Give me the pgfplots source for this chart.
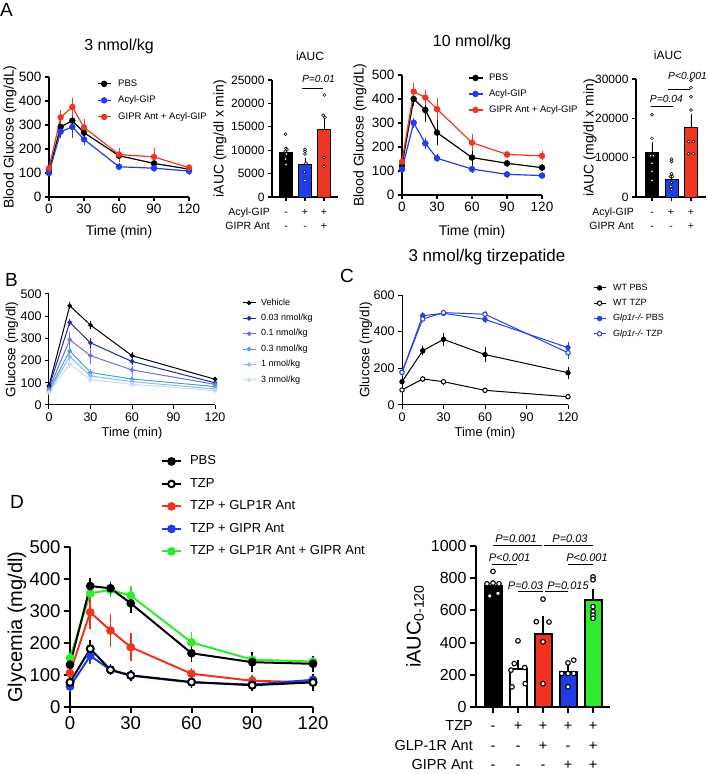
\documentclass[border=0pt]{standalone}
\usepackage{fontspec}
\setmainfont{Liberation Sans}
\usepackage{pgfplots}
\usepackage{pgfplotstable}
\pgfplotsset{compat=1.18}

\newcommand{\fs}[1]{\fontsize{#1}{#1}\selectfont}

\definecolor{aBlue}{RGB}{30,62,235}
\definecolor{aRed}{RGB}{238,55,35}
\definecolor{bC1}{RGB}{28,42,170}
\definecolor{bC2}{RGB}{112,112,222}
\definecolor{bC3}{RGB}{80,158,222}
\definecolor{bC4}{RGB}{140,188,238}
\definecolor{bC5}{RGB}{198,220,244}
\definecolor{cBlue}{RGB}{35,65,225}
\definecolor{dRed}{RGB}{240,50,30}
\definecolor{dBlue}{RGB}{30,60,225}
\definecolor{dGreen}{RGB}{45,235,45}

\pgfplotstableread{
t   pbs pbsE gip gipE ant antE
0   110 8    100 6    120 8
10  292 15   272 15   332 22
20  318 20   292 35   375 27
30  268 15   240 15   290 25
60  172 10   126 6    177 20
90  140 8    120 8    167 26
120 116 6    108 6    122 6
}\dataAthree

\pgfplotstableread{
t   pbs pbsE gip gipE ant antE
0   122 8    107 6    139 8
10  400 18   301 12   431 25
20  354 40   215 15   406 22
30  260 42   153 8    358 35
60  156 22   108 6    218 25
90  132 6    86  5    169 6
120 114 5    81  5    163 10
}\dataAten

\pgfplotstableread{
t   veh vehE da daE db dbE dc dcE dd ddE de deE
0   87  5    80 4   71 4   65 4   60 4   56 4
15  447 10   372 10 294 30 244 15 218 20 185 12
30  360 10   280 15 222 30 146 8  131 8  113 6
60  222 8    196 8  158 12 117 10 105 6  93 6
120 116 4    100 4  93 4   83 4   72 4   65 4
}\dataB

\pgfplotstableread{
t   wp  wpE wt wtE kp  kpE kt  ktE
0   127 10  82 5   178 8   178 8
15  296 15  142 5  487 8   469 8
30  358 25  127 5  500 6   504 6
60  275 28  80 4   467 10  495 6
120 176 22  45 4   313 20  285 25
}\dataC

\pgfplotstableread{
t   pbs pbsE tzp tzpE glp glpE gip gipE both bothE
0   132 8   77 6   106 6   64 6   153 6
10  378 15  182 15 296 40  160 15 355 10
20  371 10  116 6  239 40  116 6  366 10
30  324 20  99 6   187 32  98 6   348 18
60  168 15  78 8   104 6   77 6   202 20
90  140 20  68 6   82 6    70 6   148 10
120 135 15  77 15  77 6    85 6   142 8
}\dataD

\pgfplotsset{
  gp/.style={scale only axis, clip=false,
    axis x line*=bottom, axis y line*=left,
    axis line style={line width=#1, black},
    tick style={line width=#1, black},
    tick align=outside, scaled ticks=false,
    /pgf/number format/assume math mode=true,
    /pgf/number format/1000 sep={},
    legend cell align=left},
  fser/.style n args={5}{color=#1, line width=#2, mark=*, mark size=#3,
    mark options={solid, fill=#1, draw=#1},
    error bars/.cd, y dir=both, y explicit,
    error bar style={line width=#4, #1, solid},
    error mark options={mark size=#5, line width=#4, #1}},
  oser/.style n args={5}{color=#1, line width=#2, mark=*, mark size=#3,
    mark options={solid, fill=white, draw=#1},
    error bars/.cd, y dir=both, y explicit,
    error bar style={line width=#4, #1, solid},
    error mark options={mark size=#5, line width=#4, #1}},
  gbar/.style n args={4}{ybar, bar shift=0pt, bar width=#2, fill=#1, draw=black, line width=#3,
    error bars/.cd, y dir=plus, y explicit,
    error bar style={line width=#3, black},
    error mark options={mark size=#4, line width=#3, black}},
  dots/.style 2 args={only marks, mark=*, mark size=#1, mark options={fill=white, draw=black, line width=#2}},
  leglen/.style={legend image code/.code={\draw[mark repeat=2,mark phase=2] plot coordinates {(0pt,0pt) (#1/2,0pt) (#1,0pt)};}},
}

\begin{document}
\begin{tikzpicture}
\path[use as bounding box] (0pt,0pt) rectangle (708pt,774pt);

% ---------------- A: 3 nmol/kg ----------------
\begin{axis}[gp=1.2pt, at={(49pt,577pt)}, anchor=south west,
  width=140pt, height=120pt, xmin=0, xmax=120, ymin=0, ymax=500,
  xtick={0,30,60,90,120}, ytick={0,100,...,500}, major tick length=4pt,
  tick label style={font=\fs{13.5}},
  title={3 nmol/kg}, title style={font=\fs{16}, at={(axis description cs:0.5,1.208)}, anchor=center},
  xlabel={Time (min)}, xlabel style={font=\fs{14}, at={(axis description cs:0.5,-0.292)}, anchor=center},
  ylabel={Blood Glucose (mg/dL)}, ylabel style={font=\fs{14}, at={(axis description cs:-0.279,0.5)}, anchor=center},
  leglen=13pt,
  legend style={at={(axis description cs:0.343,0.98)}, anchor=north west, draw=none, fill=none,
     inner sep=0pt, outer sep=0pt, row sep=7.5pt, column sep=7pt, font=\fs{9.5},
     nodes={inner sep=0pt, text height=7pt, text depth=2pt}},
]
\addplot[fser={black}{1.2pt}{2.6pt}{0.9pt}{2.2pt}] table[x=t,y=pbs,y error=pbsE]{\dataAthree};
\addlegendentry{PBS}
\addplot[fser={aBlue}{1.2pt}{2.6pt}{0.9pt}{2.2pt}] table[x=t,y=gip,y error=gipE]{\dataAthree};
\addlegendentry{Acyl-GIP}
\addplot[fser={aRed}{1.2pt}{2.6pt}{0.9pt}{2.2pt}] table[x=t,y=ant,y error=antE]{\dataAthree};
\addlegendentry{GIPR Ant + Acyl-GIP}
\end{axis}

% ---------------- A: iAUC 3 nmol/kg ----------------
\begin{axis}[gp=1.2pt, at={(272pt,577pt)}, anchor=south west,
  width=66pt, height=117pt, xmin=0.263, xmax=3.737, ymin=0, ymax=25000,
  xtick={1,2,3}, xticklabels={,,}, ytick={0,5000,...,25000}, major tick length=4pt,
  tick label style={font=\fs{12}},
  title={iAUC}, title style={font=\fs{12}, at={(axis description cs:0.576,1.154)}, anchor=center},
  ylabel={iAUC (mg/dl x min)}, ylabel style={font=\fs{14}, at={(axis description cs:-0.788,0.5)}, anchor=center},
]
\addplot[gbar={black}{13pt}{0.9pt}{2.2pt}] coordinates {(1,9600) +- (0,600)};
\addplot[gbar={aBlue}{13pt}{0.9pt}{2.2pt}] coordinates {(2,7000) +- (0,900)};
\addplot[gbar={aRed}{13pt}{0.9pt}{2.2pt}] coordinates {(3,14400) +- (0,2700)};
\addplot[dots={1.5pt}{0.5pt}] coordinates {(0.97,13400) (1.0,10400) (1.05,10100) (0.95,9800) (1.02,9200) (0.98,8100) (1.0,6900)
  (2,10200) (2,9700) (2,9200) (2.05,7200) (1.97,5400) (2,3500)
  (3.02,21800) (2.95,17500) (3.05,17000) (3,8500) (3,6500)};
\draw[line width=0.9pt] (axis cs:1.84,23300) -- (axis cs:2.95,23300);
\node[font=\itshape\fs{10.3}, anchor=base] at (axis cs:2.71,23300) [yshift=5pt] {P=0.01};
\end{axis}

% ---------------- A: 10 nmol/kg ----------------
\begin{axis}[gp=1.2pt, at={(402pt,579pt)}, anchor=south west,
  width=140pt, height=120pt, xmin=0, xmax=120, ymin=0, ymax=500,
  xtick={0,30,60,90,120}, ytick={0,100,...,500}, major tick length=4pt,
  tick label style={font=\fs{13.5}},
  title={10 nmol/kg}, title style={font=\fs{16}, at={(axis description cs:0.5,1.225)}, anchor=center},
  xlabel={Time (min)}, xlabel style={font=\fs{14}, at={(axis description cs:0.5,-0.308)}, anchor=center},
  ylabel={Blood Glucose (mg/dL)}, ylabel style={font=\fs{14}, at={(axis description cs:-0.3,0.5)}, anchor=center},
  leglen=14pt,
  legend style={at={(axis description cs:0.471,1.013)}, anchor=north west, draw=none, fill=none,
     inner sep=0pt, outer sep=0pt, row sep=7pt, column sep=6pt, font=\fs{9.5},
     nodes={inner sep=0pt, text height=7pt, text depth=2pt}},
]
\addplot[fser={black}{1.2pt}{2.6pt}{0.9pt}{2.2pt}] table[x=t,y=pbs,y error=pbsE]{\dataAten};
\addlegendentry{PBS}
\addplot[fser={aBlue}{1.2pt}{2.6pt}{0.9pt}{2.2pt}] table[x=t,y=gip,y error=gipE]{\dataAten};
\addlegendentry{Acyl-GIP}
\addplot[fser={aRed}{1.2pt}{2.6pt}{0.9pt}{2.2pt}] table[x=t,y=ant,y error=antE]{\dataAten};
\addlegendentry{GIPR Ant + Acyl-GIP}
\end{axis}

% ---------------- A: iAUC 10 nmol/kg ----------------
\begin{axis}[gp=1.2pt, at={(636pt,577pt)}, anchor=south west,
  width=70pt, height=118pt, xmin=0.18, xmax=3.77, ymin=0, ymax=30000,
  xtick={1,2,3}, xticklabels={,,}, ytick={0,10000,20000,30000}, major tick length=4pt,
  tick label style={font=\fs{12}},
  title={iAUC}, title style={font=\fs{12}, at={(axis description cs:0.457,1.153)}, anchor=center},
  ylabel={iAUC (mg/dl x min)}, ylabel style={font=\fs{14}, at={(axis description cs:-0.657,0.5)}, anchor=center},
]
\addplot[gbar={black}{13pt}{0.9pt}{2.2pt}] coordinates {(1,11300) +- (0,2100)};
\addplot[gbar={aBlue}{13pt}{0.9pt}{2.2pt}] coordinates {(2,4400) +- (0,1500)};
\addplot[gbar={aRed}{13pt}{0.9pt}{2.2pt}] coordinates {(3,17700) +- (0,2800)};
\addplot[dots={1.5pt}{0.5pt}] coordinates {(1,20900) (1,14900) (0.93,10500) (1.07,10500) (1,8600) (1,6500) (1,4200)
  (2,9600) (2,9000) (2,5900) (1.95,5200) (2.05,5200) (2,3700) (1.97,2700) (2,1900)
  (3,29600) (3,27800) (3,25500) (3,22100) (2.88,14100) (3.12,14100) (2.88,11000) (3.12,11000)};
\draw[line width=0.9pt] (axis cs:0.95,23130) -- (axis cs:2.08,23130);
\node[font=\itshape\fs{10.3}, anchor=base] at (axis cs:1.74,23130) [yshift=4pt] {P=0.04};
\draw[line width=0.9pt] (axis cs:1.82,27450) -- (axis cs:2.95,27450);
\node[font=\itshape\fs{10.3}, anchor=base] at (axis cs:2.82,27450) [yshift=10pt] {P<0.001};
\end{axis}

% ---------------- B ----------------
\begin{axis}[gp=1pt, at={(49pt,369pt)}, anchor=south west,
  width=166pt, height=111pt, xmin=0, xmax=120, ymin=0, ymax=500,
  xtick={0,30,60,90,120}, ytick={0,100,...,500}, major tick length=4pt,
  tick label style={font=\fs{12.5}},
  xlabel={Time (min)}, xlabel style={font=\fs{12.8}, at={(axis description cs:0.5,-0.252)}, anchor=center},
  ylabel={Glucose (mg/dl)}, ylabel style={font=\fs{13.5}, at={(axis description cs:-0.223,0.5)}, anchor=center},
  leglen=13pt,
  legend style={at={(axis description cs:1.163,0.958)}, anchor=north west, draw=none, fill=none,
     inner sep=0pt, outer sep=0pt, row sep=6.9pt, column sep=5pt, font=\fs{9},
     nodes={inner sep=0pt, text height=6.5pt, text depth=2pt}},
]
\addplot[fser={black}{1pt}{1.8pt}{0.8pt}{1.5pt}] table[x=t,y=veh,y error=vehE]{\dataB};
\addlegendentry{Vehicle}
\addplot[fser={bC1}{1pt}{1.8pt}{0.8pt}{1.5pt}] table[x=t,y=da,y error=daE]{\dataB};
\addlegendentry{0.03 nmol/kg}
\addplot[fser={bC2}{1pt}{1.8pt}{0.8pt}{1.5pt}] table[x=t,y=db,y error=dbE]{\dataB};
\addlegendentry{0.1 nmol/kg}
\addplot[fser={bC3}{1pt}{1.8pt}{0.8pt}{1.5pt}] table[x=t,y=dc,y error=dcE]{\dataB};
\addlegendentry{0.3 nmol/kg}
\addplot[fser={bC4}{1pt}{1.8pt}{0.8pt}{1.5pt}] table[x=t,y=dd,y error=ddE]{\dataB};
\addlegendentry{1 nmol/kg}
\addplot[fser={bC5}{1pt}{1.8pt}{0.8pt}{1.5pt}] table[x=t,y=de,y error=deE]{\dataB};
\addlegendentry{3 nmol/kg}
\end{axis}

% ---------------- C ----------------
\begin{axis}[gp=1pt, at={(402pt,369pt)}, anchor=south west,
  width=166pt, height=110pt, xmin=0, xmax=120, ymin=0, ymax=600,
  xtick={0,30,60,90,120}, ytick={0,200,400,600}, major tick length=4pt,
  tick label style={font=\fs{12.5}},
  title={3 nmol/kg tirzepatide}, title style={font=\fs{17}, at={(axis description cs:0.512,1.291)}, anchor=center},
  xlabel={Time (min)}, xlabel style={font=\fs{12.8}, at={(axis description cs:0.5,-0.255)}, anchor=center},
  ylabel={Glucose (mg/dl)}, ylabel style={font=\fs{13.5}, at={(axis description cs:-0.217,0.5)}, anchor=center},
  leglen=12pt,
  legend style={at={(axis description cs:1.151,1.103)}, anchor=north west, draw=none, fill=none,
     inner sep=0pt, outer sep=0pt, row sep=6.8pt, column sep=7pt, font=\fs{9},
     nodes={inner sep=0pt, text height=6.5pt, text depth=2pt}},
]
\addplot[fser={black}{1pt}{2.2pt}{0.8pt}{2pt}] table[x=t,y=wp,y error=wpE]{\dataC};
\addlegendentry{WT PBS}
\addplot[oser={black}{1pt}{2.2pt}{0.8pt}{2pt}] table[x=t,y=wt,y error=wtE]{\dataC};
\addlegendentry{WT TZP}
\addplot[fser={cBlue}{1pt}{2.2pt}{0.8pt}{2pt}] table[x=t,y=kp,y error=kpE]{\dataC};
\addlegendentry{\textit{Glp1r-/-} PBS}
\addplot[oser={cBlue}{1pt}{2.2pt}{0.8pt}{2pt}] table[x=t,y=kt,y error=ktE]{\dataC};
\addlegendentry{\textit{Glp1r-/-} TZP}
\end{axis}

% ---------------- D left ----------------
\begin{axis}[gp=2pt, at={(70pt,67pt)}, anchor=south west,
  width=243pt, height=160pt, xmin=0, xmax=120, ymin=0, ymax=500,
  xtick={0,30,60,90,120}, ytick={0,100,...,500}, major tick length=6pt,
  tick label style={font=\fs{18.5}},
  ylabel={Glycemia (mg/dl)}, ylabel style={font=\fs{20}, at={(axis description cs:-0.218,0.5)}, anchor=center},
  leglen=19pt,
  legend style={at={(axis description cs:0.3745,1.574)}, anchor=north west, draw=none, fill=none,
     inner sep=0pt, outer sep=0pt, row sep=10pt, column sep=8pt, font=\fs{13},
     nodes={inner sep=0pt, text height=9.5pt, text depth=3pt}},
]
\addlegendimage{fser={black}{2pt}{3.3pt}{1.8pt}{3.5pt}}
\addlegendentry{PBS}
\addlegendimage{oser={black}{2pt}{3.3pt}{1.8pt}{3.5pt}}
\addlegendentry{TZP}
\addlegendimage{fser={dRed}{2pt}{3.3pt}{1.8pt}{3.5pt}}
\addlegendentry{TZP + GLP1R Ant}
\addlegendimage{fser={dBlue}{2pt}{3.3pt}{1.8pt}{3.5pt}}
\addlegendentry{TZP + GIPR Ant}
\addlegendimage{fser={dGreen}{2pt}{3.3pt}{1.8pt}{3.5pt}}
\addlegendentry{TZP + GLP1R Ant + GIPR Ant}
\addplot[forget plot, fser={dGreen}{2pt}{3.3pt}{1.8pt}{3.5pt}] table[x=t,y=both,y error=bothE]{\dataD};
\addplot[forget plot, fser={dRed}{2pt}{3.3pt}{1.8pt}{3.5pt}] table[x=t,y=glp,y error=glpE]{\dataD};
\addplot[forget plot, fser={dBlue}{2pt}{3.3pt}{1.8pt}{3.5pt}] table[x=t,y=gip,y error=gipE]{\dataD};
\addplot[forget plot, fser={black}{2pt}{3.3pt}{1.8pt}{3.5pt}] table[x=t,y=pbs,y error=pbsE]{\dataD};
\addplot[forget plot, oser={black}{2pt}{3.5pt}{1.8pt}{3.5pt}] table[x=t,y=tzp,y error=tzpE]{\dataD};
\end{axis}

% ---------------- D right ----------------
\begin{axis}[gp=2pt, at={(476pt,67pt)}, anchor=south west,
  width=134pt, height=161pt, xmin=0.32, xmax=5.68, ymin=0, ymax=1000,
  xtick={1,2,3,4,5}, xticklabels={,,,,}, ytick={0,200,...,1000}, major tick length=6pt,
  tick label style={font=\fs{16}},
  ylabel={iAUC\textsubscript{0-120}}, ylabel style={font=\fs{20}, at={(axis description cs:-0.455,0.5)}, anchor=center},
]
\addplot[gbar={black}{17pt}{2pt}{3.5pt}] coordinates {(1,750) +- (0,20)};
\addplot[gbar={white}{17pt}{2pt}{3.5pt}] coordinates {(2,233) +- (0,40)};
\addplot[gbar={dRed}{17pt}{2pt}{3.5pt}] coordinates {(3,451) +- (0,92)};
\addplot[gbar={dBlue}{17pt}{2pt}{3.5pt}] coordinates {(4,218) +- (0,27)};
\addplot[gbar={dGreen}{17pt}{2pt}{3.5pt}] coordinates {(5,665) +- (0,45)};
\addplot[dots={2.3pt}{1.1pt}] coordinates {(1.0,842) (0.76,765) (1.0,770) (1.24,765) (0.87,690) (1.2,706)
  (2.0,411) (1.85,270) (2.27,245) (1.72,229) (1.76,125) (2.29,145)
  (3,670) (2.73,530) (3.24,528) (3,405) (3,145)
  (4,274) (4.23,291) (3.75,208) (4.0,208) (4.23,208) (4,125)
  (5,808) (5,790) (5,623) (5,592) (5,571) (5,551)};
\draw[line width=1pt] (axis cs:1.0,1000) -- (axis cs:2.96,1000);
\draw[line width=1pt] (axis cs:3.04,1000) -- (axis cs:5.0,1000);
\draw[line width=1pt] (axis cs:0.96,888) -- (axis cs:1.96,888);
\draw[line width=1pt] (axis cs:4.0,888) -- (axis cs:5.0,888);
\draw[line width=1pt] (axis cs:2.0,720) -- (axis cs:2.98,720);
\draw[line width=1pt] (axis cs:3.06,720) -- (axis cs:4.0,720);
\node[font=\itshape\fs{11}, anchor=base] at (axis cs:1.92,1000) [yshift=3pt] {P=0.001};
\node[font=\itshape\fs{11}, anchor=base] at (axis cs:4.08,1000) [yshift=3pt] {P=0.03};
\node[font=\itshape\fs{11}, anchor=base] at (axis cs:1.66,888) [yshift=3pt] {P<0.001};
\node[font=\itshape\fs{11}, anchor=base] at (axis cs:4.76,888) [yshift=3pt] {P<0.001};
\node[font=\itshape\fs{11}, anchor=base] at (axis cs:2.3,720) [yshift=2pt] {P=0.03};
\node[font=\itshape\fs{11}, anchor=base] at (axis cs:4.0,720) [yshift=2pt] {P=0.015};
\end{axis}

% ---------------- panel letters ----------------
\node[font=\fs{19}, anchor=base west, inner sep=0pt] at (0pt,757pt) {A};
\node[font=\fs{19}, anchor=base west, inner sep=0pt] at (5pt,487pt) {B};
\node[font=\fs{19}, anchor=base west, inner sep=0pt] at (340pt,491pt) {C};
\node[font=\fs{19}, anchor=base west, inner sep=0pt] at (10pt,265pt) {D};

% ---------------- treatment tables ----------------
\begin{scope}[every node/.style={font=\fs{10.5}, inner sep=0pt}]
\node[anchor=base east] at (270pt,558.5pt) {Acyl-GIP};
\node[anchor=base east] at (270pt,544.2pt) {GIPR Ant};
\node[anchor=base] at (286pt,558.5pt) {-};
\node[anchor=base] at (305pt,558.5pt) {+};
\node[anchor=base] at (324pt,558.5pt) {+};
\node[anchor=base] at (286pt,544.2pt) {-};
\node[anchor=base] at (305pt,544.2pt) {-};
\node[anchor=base] at (324pt,544.2pt) {+};
\node[anchor=base east] at (634pt,558.5pt) {Acyl-GIP};
\node[anchor=base east] at (634pt,544.2pt) {GIPR Ant};
\node[anchor=base] at (652pt,558.5pt) {-};
\node[anchor=base] at (671pt,558.5pt) {+};
\node[anchor=base] at (691pt,558.5pt) {+};
\node[anchor=base] at (652pt,544.2pt) {-};
\node[anchor=base] at (671pt,544.2pt) {-};
\node[anchor=base] at (691pt,544.2pt) {+};
\end{scope}
\begin{scope}[every node/.style={font=\fs{14.5}, inner sep=0pt}]
\node[anchor=base east] at (473pt,43pt) {TZP};
\node[anchor=base east] at (473pt,23.5pt) {GLP-1R Ant};
\node[anchor=base east] at (473pt,5pt) {GIPR Ant};
\node[anchor=base] at (493pt,43pt) {-};
\node[anchor=base] at (518pt,43pt) {+};
\node[anchor=base] at (543pt,43pt) {+};
\node[anchor=base] at (568pt,43pt) {+};
\node[anchor=base] at (593pt,43pt) {+};
\node[anchor=base] at (493pt,23.5pt) {-};
\node[anchor=base] at (518pt,23.5pt) {-};
\node[anchor=base] at (543pt,23.5pt) {+};
\node[anchor=base] at (568pt,23.5pt) {-};
\node[anchor=base] at (593pt,23.5pt) {+};
\node[anchor=base] at (493pt,5pt) {-};
\node[anchor=base] at (518pt,5pt) {-};
\node[anchor=base] at (543pt,5pt) {-};
\node[anchor=base] at (568pt,5pt) {+};
\node[anchor=base] at (593pt,5pt) {+};
\end{scope}
\end{tikzpicture}
\end{document}
